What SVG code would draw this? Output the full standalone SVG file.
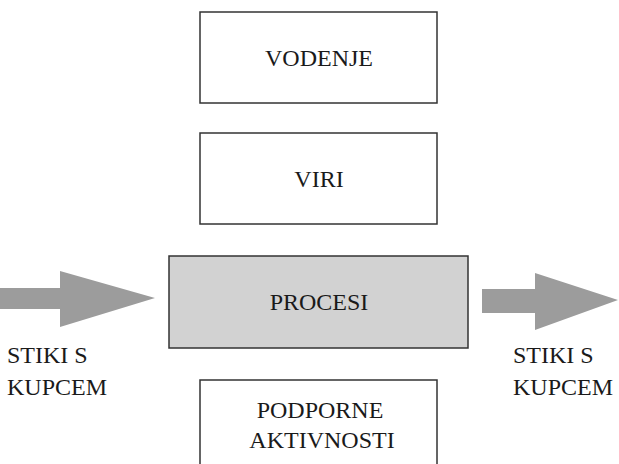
<svg xmlns="http://www.w3.org/2000/svg" width="619" height="464" viewBox="0 0 619 464">
<style>
.box{fill:#ffffff;stroke:#333333;stroke-width:1.5}
.shade{fill:#d2d2d2;stroke:#333333;stroke-width:1.5}
.arrow{fill:#9c9c9c;stroke:none}
.t{font-family:"Liberation Serif","Times New Roman",serif;font-size:24px;fill:#1a1a1a}
.c{text-anchor:middle}
</style>
<rect width="619" height="464" fill="#ffffff"/>
<g id="connectors">
<polygon class="arrow" points="0,288 60,288 60,271 155,298 60,327 60,309 0,309"/>
<polygon class="arrow" points="482,289 535,289 535,273 618,300 535,330 535,313 482,313"/>
</g>
<g id="vodenje">
<rect class="box" x="200" y="12" width="237" height="91"/>
<text class="t c" x="319" y="66">VODENJE</text>
</g>
<g id="viri">
<rect class="box" x="200" y="133" width="237" height="91"/>
<text class="t c" x="319" y="187">VIRI</text>
</g>
<g id="procesi">
<rect class="shade" x="169" y="256" width="299" height="92"/>
<text class="t c" x="319" y="310">PROCESI</text>
</g>
<g id="podporne">
<rect class="box" x="200" y="380" width="237" height="90"/>
<text class="t c" x="320" y="418">PODPORNE</text>
<text class="t c" x="322" y="448">AKTIVNOSTI</text>
</g>
<g id="stiki-left">
<text class="t" x="7" y="363">STIKI S</text>
<text class="t" x="7" y="395">KUPCEM</text>
</g>
<g id="stiki-right">
<text class="t" x="513" y="363">STIKI S</text>
<text class="t" x="513" y="395">KUPCEM</text>
</g>
</svg>
